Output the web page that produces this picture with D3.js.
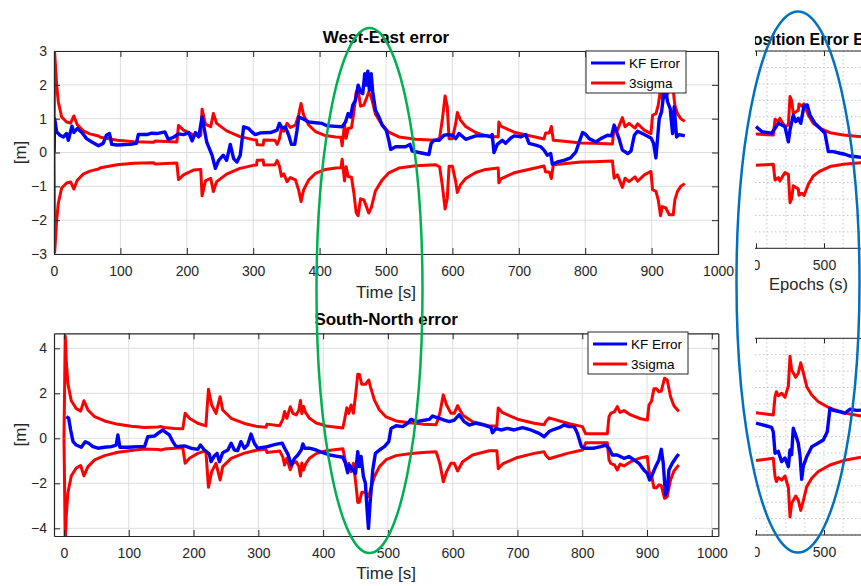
<!DOCTYPE html>
<html><head><meta charset="utf-8">
<script src="https://cdn.jsdelivr.net/npm/d3@7"></script>
<style>
body{margin:0;background:#fff}
text{font-family:Arial,"Liberation Sans",Helvetica,sans-serif}
</style>
</head><body>
<svg id="c" width="861" height="586"></svg>
<script>
// ---------------- DATA ----------------
const timeTicks = [0,100,200,300,400,500,600,700,800,900,1000];
const weTicksY = [-3,-2,-1,0,1,2,3];
const snTicksY = [-4,-2,0,2,4];
const legendLabels = ["KF Error","3sigma"];
const titles = ["West-East error","South-North error"];
const xLabel = "Time [s]";
const yLabel = "[m]";

// West-East KF error [t, m]
const weError = [[0,0.0],[1,1.0],[4,0.61],[9,0.51],[14,0.46],[19,0.56],[21.6,0.36],[27,0.78],[30,0.59],[35,0.71],[42,0.59],[49,0.41],[57,0.31],[67,0.2],[74,0.27],[79,0.51],[83.5,0.56],[87,0.24],[95,0.22],[115,0.24],[124,0.27],[127,0.53],[140,0.53],[147,0.57],[155,0.56],[162,0.59],[167,0.61],[172,0.39],[180,0.45],[187.5,0.55],[195,0.53],[203,0.59],[208,0.34],[213,0.59],[218,0.46],[223,1.05],[230,0.31],[238,-0.08],[243,-0.47],[248,-0.23],[255,-0.08],[260,-0.23],[265.5,0.24],[270.5,-0.18],[275.5,-0.28],[280.5,-0.08],[285.6,0.76],[293,0.71],[298,0.61],[303,0.53],[311,0.58],[326,0.59],[336,0.66],[339.5,0.86],[343.5,0.73],[348.5,0.75],[353.5,0.51],[357.5,0.24],[362.5,0.24],[366,0.66],[368.6,1.05],[376,0.98],[383.7,0.9],[393.7,0.88],[403.8,0.86],[411,0.79],[419,0.78],[434,0.76],[439,0.9],[443,1.15],[446.5,1.05],[450,1.4],[454,1.54],[458,1.99],[461.6,1.79],[465,1.74],[468,2.33],[470,1.99],[472.7,2.4],[475,1.84],[477.7,2.33],[480,1.79],[484.2,1.25],[489.3,1.05],[494.3,0.81],[500.3,0.66],[504.3,0.36],[507,0.09],[514.4,0.17],[529.5,0.17],[536,0.24],[539.5,0.04],[549.6,0.0],[564.7,-0.06],[568,0.27],[572,0.36],[580,0.36],[587.3,0.51],[593.8,0.53],[600,0.51],[605,0.41],[610,0.56],[620,0.39],[635,0.49],[650,0.5],[657.6,0.46],[660,0.53],[662.6,0.0],[667.6,0.24],[675,0.36],[680,0.27],[688,0.43],[693,0.49],[703,0.46],[710.4,0.53],[715.4,0.27],[725.5,0.22],[733,0.17],[738,0.07],[743,-0.08],[748,-0.03],[750.6,-0.35],[758,-0.28],[768,-0.23],[778,-0.16],[786,0.02],[791,0.31],[796,0.59],[801,0.53],[806,0.41],[816,0.31],[823.5,0.41],[833.6,0.51],[839.6,0.49],[843.6,0.81],[851,0.41],[856,0.07],[864,-0.03],[869,0.04],[874,0.51],[879,0.63],[889,0.53],[899,0.43],[903,0.27],[906.5,-0.16],[911.5,1.0],[915,1.2],[918,1.69],[921.5,1.84],[924,1.5],[928,1.3],[931.6,0.56],[934,1.35],[937.6,0.46],[941.7,0.53],[950,0.49]];

// West-East 3sigma bound [t, m] (drawn as +/-)
const weSigma = [[0,0],[1,2.95],[4,2.0],[6.5,1.5],[11.5,1.05],[19,0.9],[25,0.87],[30,1.08],[35,0.82],[44,0.64],[54,0.55],[67,0.49],[70,0.45],[95,0.36],[120,0.32],[150,0.3],[152,0.34],[185,0.31],[187.5,0.8],[195,0.66],[210,0.52],[221,0.5],[223,1.28],[228,0.84],[236,0.76],[240,1.15],[245,0.86],[260,0.64],[280,0.47],[300,0.38],[305,0.37],[306,0.23],[315,0.22],[316,0.37],[333,0.36],[336,0.24],[339.5,0.4],[342.5,0.7],[346,0.63],[351,0.86],[356,0.74],[363.6,0.81],[368.6,1.12],[372,1.45],[376,1.1],[383.7,0.81],[393.7,0.62],[408.8,0.5],[424,0.46],[432,0.45],[434,0.2],[437.5,0.84],[440,0.42],[443,0.71],[448,0.73],[451.5,1.18],[455,1.77],[458,1.87],[461.6,1.37],[466.6,1.4],[470.6,1.6],[474,1.79],[478,1.62],[484.2,1.13],[494.3,0.81],[504.3,0.6],[519.4,0.46],[544.6,0.39],[575,0.36],[580.8,0.43],[585,1.0],[589,1.67],[592.3,1.35],[595,0.41],[600,0.41],[605,0.86],[607.4,1.18],[612.4,0.95],[620,0.77],[635,0.59],[650,0.5],[669,0.46],[670,0.9],[673,0.78],[693,0.6],[713,0.51],[738,0.4],[740.5,0.58],[746,0.58],[749,0.77],[752,0.36],[768,0.33],[793,0.28],[813.5,0.27],[841,0.25],[843.6,0.76],[848.6,0.66],[856,1.03],[860,0.76],[866,0.86],[875,0.72],[879,0.85],[889,0.66],[899,0.56],[901.4,1.1],[906.5,1.15],[910,1.4],[913.5,1.87],[916,1.6],[921.5,1.64],[926.6,1.84],[932.6,1.84],[935,1.4],[939,1.15],[944,1.0],[950,0.92]];

// South-North KF error [t, m]
const snError = [[3.6,0.96],[7.2,0.89],[10.3,0.37],[14,-0.15],[19,-0.3],[26.7,-0.4],[32.9,-0.15],[38,-0.22],[44.7,-0.37],[52.4,-0.44],[62.7,-0.4],[73,-0.37],[80.6,-0.3],[83.2,0.15],[86.3,-0.4],[98.6,-0.4],[114,-0.37],[124.3,-0.37],[129.4,0.07],[139.7,0.1],[145,0.22],[152.5,0.37],[157.7,0.25],[162.8,0.15],[168,-0.15],[173,-0.37],[186,-0.34],[196,-0.44],[206.5,-0.49],[210.6,-0.3],[216.7,-0.52],[224.4,-0.7],[227,-1.04],[232,-0.79],[236.3,-0.67],[240,-1.04],[245,-0.64],[253,-0.52],[258,-0.22],[263,-0.52],[268,-0.55],[273.2,-0.15],[278.4,-0.44],[283.5,-0.3],[288.7,0.19],[293.8,-0.22],[299,-0.44],[314.3,-0.37],[322,-0.3],[330.2,-0.25],[337,-0.22],[340.5,-0.44],[345.6,-0.7],[350.8,-1.19],[356,-0.89],[361,-0.74],[366.2,-0.52],[368.8,-0.25],[371.3,-0.44],[379,-0.44],[389.3,-0.52],[399.6,-0.64],[410,-0.74],[420,-0.79],[430.4,-0.84],[434.5,-1.11],[438,-1.53],[440.7,-1.19],[445.8,-1.41],[450,-1.56],[453.5,-0.59],[456,-1.26],[458.6,-0.81],[462.2,-1.7],[465.3,-2.0],[467.9,-3.19],[470,-4.0],[472.5,-2.89],[476.6,-1.41],[480.7,-0.67],[487,-0.52],[494.6,-0.37],[501.3,-0.15],[504.9,0.44],[512.6,0.56],[523,0.52],[530.5,0.67],[535.7,0.84],[543.4,0.74],[553.7,0.79],[564,0.84],[569,0.99],[579.3,0.89],[587,0.81],[594.7,0.74],[602.4,0.81],[610,1.04],[617.9,0.74],[625.6,0.59],[636,0.67],[648.6,0.59],[659,0.49],[661.5,0.25],[666.7,0.44],[674.4,0.37],[684.6,0.44],[695,0.37],[707.8,0.47],[720.6,0.37],[733.4,0.22],[741.2,0.07],[748.8,0.3],[756.6,0.4],[764.3,0.47],[772,0.59],[779.7,0.52],[787.4,0.52],[792.5,0.22],[798.7,-0.37],[802.8,-0.44],[818.2,-0.44],[828.5,-0.37],[836,-0.3],[841.3,-0.44],[846.4,-0.74],[854,-0.74],[864.4,-0.89],[872,-0.81],[880,-0.96],[887.5,-1.11],[895.2,-1.41],[900.4,-1.56],[904,-1.85],[908,-1.63],[913.2,-1.26],[918.3,-0.96],[922,-0.49],[925,-1.11],[928.6,-2.52],[931.2,-2.3],[933.8,-1.41],[939,-1.11],[944,-0.89],[949,-0.7]];

// South-North 3sigma bound [t, m]
const snSigma = [[0,0],[2,4.55],[3.6,3.4],[6.2,2.4],[11.3,1.67],[19,1.32],[25.7,1.21],[30.8,1.67],[37,1.26],[47.3,0.96],[62.7,0.77],[83.2,0.62],[103.8,0.54],[124.3,0.48],[145,0.5],[150,0.52],[155,0.48],[170.5,0.44],[183.4,0.42],[187,1.11],[193.6,0.89],[206.5,0.67],[219,0.55],[223,2.18],[228,1.48],[234.7,1.11],[241,1.85],[245,1.26],[258,0.89],[278.4,0.66],[299,0.52],[311.8,0.49],[313.3,0.63],[333,0.56],[338,0.85],[340.5,1.19],[344,0.89],[349.3,1.4],[353.4,1.11],[358.5,1.04],[362.6,1.26],[365,1.68],[367.2,1.1],[369.8,1.41],[373,1.14],[379,0.89],[389.3,0.68],[404.7,0.55],[430.4,0.46],[433,0.81],[436.6,1.36],[439.6,1.11],[443.2,1.48],[446.8,1.11],[451,2.15],[453.5,2.85],[456,2.84],[459.7,2.4],[465.3,2.4],[470.5,2.59],[473,2.3],[479.2,1.7],[487,1.26],[497.2,0.95],[512.6,0.77],[533,0.69],[553.7,0.63],[574.2,0.6],[576.8,0.8],[580.4,1.15],[585.5,1.93],[590.6,1.48],[597.3,1.11],[602.4,1.11],[607.6,1.45],[615.3,1.04],[630.7,0.74],[656.4,0.55],[668.2,0.55],[670.3,1.35],[677,1.14],[700,0.85],[725.7,0.67],[741.2,0.6],[743.7,0.75],[748.8,0.91],[756.6,0.84],[777,0.67],[800.2,0.52],[805.3,0.2],[838.7,0.2],[841.3,0.96],[843.9,1.11],[850,1.19],[854,1.41],[858.3,1.15],[864.4,1.23],[874.7,1.04],[890,0.87],[900.4,0.81],[903,1.48],[907,1.66],[910.6,2.2],[914.7,2.2],[918.3,2.07],[922,2.1],[927,2.67],[931.2,2.59],[936.3,1.85],[941.5,1.45],[949,1.19]];

// Right-hand (partly visible) comparison panels
const posTitle = "Position Error East";
const posXLabel = "Epochs (s)";
const posEpochTicks = [0,500];
const posEpochMinor = [80,220,360,500,640,780];
const posGridY = [-6,-5,-4,-3,-2,-1,0,1,2,3,4,5,6];
const posEastError = [[0,1.4],[42,1.1],[79,1.05],[115,1.0],[140,1.3],[164,1.6],[189,1.5],[213,1.4],[238,0.48],[250,1.2],[274,2.1],[292,1.7],[311,1.9],[329,1.6],[353,2.66],[377,2.72],[397,2.1],[434,1.6],[471,1.3],[507,1.0],[532,-0.12],[568,-0.12],[618,-0.22],[654,-0.28],[691,-0.39],[740,-0.43],[772,-0.47]];
const posEastSigma = [[0,0.95],[127,0.89],[140,1.85],[164,1.7],[176,1.9],[201,1.55],[213,1.4],[238,1.5],[250,3.23],[262,3.0],[274,2.2],[311,2.4],[316,2.78],[336,2.65],[353,2.78],[385,2.1],[421,1.6],[471,1.3],[544,1.03],[642,0.89],[772,0.79]];
const posNorthError = [[0,0.82],[79,0.65],[115,0.57],[127,0.3],[140,-1.01],[164,-0.9],[176,-1.22],[189,-1.52],[213,-1.3],[238,-1.83],[250,-0.81],[262,-1.1],[274,0.51],[292,0.1],[311,-0.4],[324,-1.2],[336,-2.6],[348,-1.8],[373,-1.22],[410,-0.61],[446,-0.45],[495,-0.2],[524,0.3],[544,1.73],[568,1.6],[618,1.52],[654,1.43],[691,1.67],[740,1.6],[772,1.62]];
const posNorthSigma = [[0,1.46],[127,1.32],[140,2.44],[150,2.74],[164,2.5],[189,2.65],[213,2.4],[238,3.1],[250,4.9],[262,4.07],[292,3.62],[311,3.87],[329,4.5],[348,3.9],[373,3.05],[410,2.54],[458,2.13],[544,1.73],[642,1.46],[772,1.26]];

// ---------------- DRAWING ----------------
const svg = d3.select("#c");
svg.append("rect").attr("width",861).attr("height",586).attr("fill","#fff");
const AX = "#262626", BLUE = "#0000ff", RED = "#ff0000", GRID = "#dedede";
const defs = svg.append("defs");
let clipId = 0;
function clip(x,y,w,h){
  const id = "clip"+(clipId++);
  defs.append("clipPath").attr("id",id).append("rect").attr("x",x).attr("y",y).attr("width",w).attr("height",h);
  return "url(#"+id+")";
}

function mainPlot(o){
  const x = d3.scaleLinear().domain(o.xDom).range([o.left,o.right]);
  const y = d3.scaleLinear().domain(o.yDom).range([o.bottom,o.top]);
  const g = svg.append("g");
  // grid
  g.selectAll(".gx").data(timeTicks).enter().append("line")
    .attr("x1",d=>x(d)).attr("x2",d=>x(d)).attr("y1",o.top).attr("y2",o.bottom)
    .attr("stroke",GRID).attr("stroke-width",1);
  g.selectAll(".gy").data(o.yTicks).enter().append("line")
    .attr("y1",d=>y(d)).attr("y2",d=>y(d)).attr("x1",o.left).attr("x2",o.right)
    .attr("stroke",GRID).attr("stroke-width",1);
  // data
  const cp = clip(o.left,o.top,o.right-o.left,o.bottom-o.top);
  const dg = g.append("g").attr("clip-path",cp);
  const line = d3.line().x(d=>x(d[0])).y(d=>y(d[1]));
  dg.append("path").datum(o.sigma).attr("d",line).attr("fill","none").attr("stroke",RED).attr("stroke-width",3).attr("stroke-linejoin","round");
  dg.append("path").datum(o.sigma.map(d=>[d[0],-d[1]])).attr("d",line).attr("fill","none").attr("stroke",RED).attr("stroke-width",3).attr("stroke-linejoin","round");
  dg.append("path").datum(o.err).attr("d",line).attr("fill","none").attr("stroke",BLUE).attr("stroke-width",3.4).attr("stroke-linejoin","round");
  // axes (MATLAB-like box with inward ticks)
  const style = a => { a.selectAll("path,line").attr("stroke",AX); a.selectAll("text").attr("fill",AX).attr("font-size",14).attr("font-family","Arial, Liberation Sans, sans-serif"); };
  g.append("g").attr("transform",`translate(0,${o.bottom})`)
    .call(d3.axisBottom(x).tickValues(timeTicks).tickSize(-6).tickSizeOuter(0).tickPadding(12).tickFormat(d3.format("d"))).call(style);
  g.append("g").attr("transform",`translate(0,${o.top})`)
    .call(d3.axisTop(x).tickValues(timeTicks).tickSize(-6).tickSizeOuter(0).tickFormat("")).call(style);
  g.append("g").attr("transform",`translate(${o.left},0)`)
    .call(d3.axisLeft(y).tickValues(o.yTicks).tickSize(-6).tickSizeOuter(0).tickPadding(7).tickFormat(d3.format("d"))).call(style);
  g.append("g").attr("transform",`translate(${o.right},0)`)
    .call(d3.axisRight(y).tickValues(o.yTicks).tickSize(-6).tickSizeOuter(0).tickFormat("")).call(style);
  g.selectAll(".domain").attr("stroke-width",1.2);
  // labels
  const cx = (o.left+o.right)/2;
  g.append("text").attr("x",cx).attr("y",o.titleY).attr("text-anchor","middle").attr("font-weight","bold").attr("font-size",17).attr("fill","#000").text(o.title);
  g.append("text").attr("x",cx).attr("y",o.xlabY).attr("text-anchor","middle").attr("font-size",17).attr("fill",AX).text(xLabel);
  g.append("text").attr("transform",`translate(26,${(o.top+o.bottom)/2}) rotate(-90)`).attr("text-anchor","middle").attr("font-size",17).attr("fill",AX).text(yLabel);
  // legend
  const L = o.legend;
  g.append("rect").attr("x",L.x).attr("y",L.y).attr("width",L.w).attr("height",L.h).attr("fill","#fff").attr("stroke",AX).attr("stroke-width",1);
  [BLUE,RED].forEach((c,i)=>{
    const ly = L.y + 12 + i*20;
    g.append("line").attr("x1",L.x+5).attr("x2",L.x+39).attr("y1",ly).attr("y2",ly).attr("stroke",c).attr("stroke-width",3.2);
    g.append("text").attr("x",L.x+43).attr("y",ly+5).attr("font-size",13.5).attr("fill","#000").text(legendLabels[i]);
  });
}

mainPlot({xDom:[0,1000],yDom:[-3,3],left:54,right:718,top:51,bottom:254,yTicks:weTicksY,
  err:weError,sigma:weSigma,title:titles[0],titleY:42.5,xlabY:298,legend:{x:586,y:51,w:100,h:42}});
mainPlot({xDom:[-15.4,1010],yDom:[-4.342,4.667],left:54,right:718.3,top:333.3,bottom:536,yTicks:snTicksY,
  err:snError,sigma:snSigma,title:titles[1],titleY:325,xlabY:579,legend:{x:588,y:332,w:100,h:42}});

// right-hand partly visible panels
function posPlot(o){
  const x = d3.scaleLinear().domain([0,500]).range([756,824]);
  const y = d3.scaleLinear().domain([-6,6]).range([o.bottom,o.top]);
  const g = svg.append("g").attr("clip-path",clip(755,0,106,586));
  g.selectAll(".gy").data(posGridY).enter().append("line")
    .attr("x1",755).attr("x2",861).attr("y1",d=>y(d)).attr("y2",d=>y(d))
    .attr("stroke","#c4c4c4").attr("stroke-dasharray","1.5,2.5");
  g.selectAll(".gx").data(posEpochMinor).enter().append("line")
    .attr("y1",o.top).attr("y2",o.bottom).attr("x1",d=>x(d)).attr("x2",d=>x(d))
    .attr("stroke","#c4c4c4").attr("stroke-dasharray","1.5,2.5");
  const dg = g.append("g").attr("clip-path",clip(755,o.top,106,o.bottom-o.top));
  const line = d3.line().x(d=>x(d[0])).y(d=>y(d[1]));
  dg.append("path").datum(o.sigma).attr("d",line).attr("fill","none").attr("stroke",RED).attr("stroke-width",3).attr("stroke-linejoin","round");
  dg.append("path").datum(o.sigma.map(d=>[d[0],-d[1]])).attr("d",line).attr("fill","none").attr("stroke",RED).attr("stroke-width",3).attr("stroke-linejoin","round");
  dg.append("path").datum(o.err).attr("d",line).attr("fill","none").attr("stroke",BLUE).attr("stroke-width",3.4).attr("stroke-linejoin","round");
  const style = a => { a.selectAll("path,line").attr("stroke",AX); a.selectAll("text").attr("fill",AX).attr("font-size",14).attr("font-family","Arial, Liberation Sans, sans-serif"); };
  g.append("g").attr("transform",`translate(0,${o.bottom})`)
    .call(d3.axisBottom(x).tickValues(posEpochTicks).tickSize(-5).tickSizeOuter(0).tickPadding(12)).call(style)
    .select(".domain").attr("d",`M755,0H900`);
  g.append("g").attr("transform",`translate(0,${o.top})`)
    .call(d3.axisTop(x).tickValues(posEpochTicks).tickSize(-5).tickSizeOuter(0).tickFormat("")).call(style)
    .select(".domain").attr("d",`M755,0H900`);
  if(o.title) g.append("text").attr("x",742).attr("y",45).attr("font-weight","bold").attr("font-size",16).attr("fill","#000").text(o.title);
  if(o.xlab) g.append("text").attr("x",808.5).attr("y",290).attr("text-anchor","middle").attr("font-size",16.5).attr("fill",AX).text(o.xlab);
}
posPlot({top:51,bottom:248.3,err:posEastError,sigma:posEastSigma,title:posTitle,xlab:posXLabel});
posPlot({top:338.3,bottom:535,err:posNorthError,sigma:posNorthSigma});

// annotation ellipses
svg.append("ellipse").attr("cx",369.5).attr("cy",290.5).attr("rx",53).attr("ry",262.5)
  .attr("fill","none").attr("stroke","#00b050").attr("stroke-width",2.5);
svg.append("ellipse").attr("cx",798).attr("cy",282).attr("rx",61.5).attr("ry",270.5)
  .attr("fill","none").attr("stroke","#0070c0").attr("stroke-width",2.5);
</script>
</body></html>
